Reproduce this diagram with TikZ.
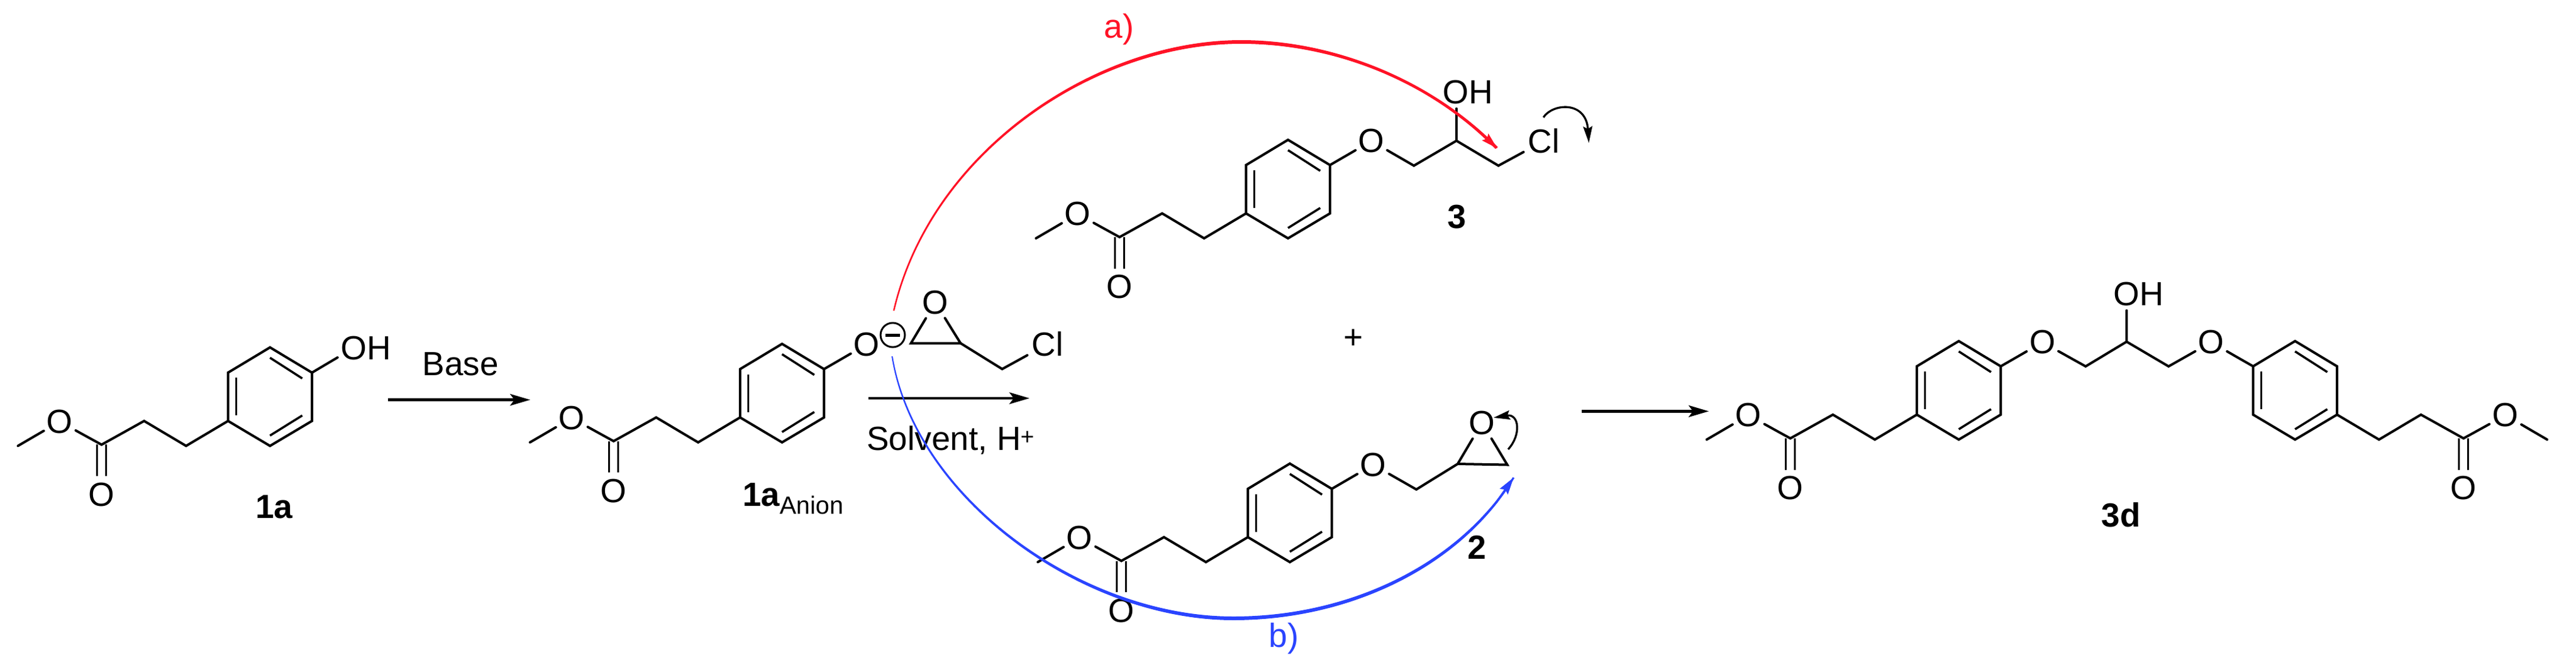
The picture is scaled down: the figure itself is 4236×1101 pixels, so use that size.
\documentclass[tikz,border=0pt]{standalone}
\usepackage{fontspec}
\setmainfont{Liberation Sans}
\usetikzlibrary{arrows.meta,calc}
\definecolor{pathred}{HTML}{FF1226}
\definecolor{pathblue}{HTML}{2A44FF}
\newcommand{\labelfont}{\fontsize{55}{60}\selectfont}
\tikzset{
  bond/.style={line width=4pt,line cap=round,black},
  innerbond/.style={line width=3.6pt,black},
  atom/.style={circle,inner sep=0pt,minimum size=60pt,font=\labelfont},
  group/.style={rectangle,inner sep=7pt,font=\labelfont},
  plain/.style={inner sep=0pt,font=\labelfont},
  compound/.style={inner sep=0pt,font=\labelfont\bfseries},
  rxnarrow/.style={line width=4.8pt,black,-{Stealth[length=33pt,width=19pt,inset=7pt]}},
  pusharrow/.style={line width=3.3pt,black,-{Stealth[length=27pt,width=15pt,inset=4pt]}},
}
% benzene ring: #1 prefix, #2 #3 lower-left vertex
\newcommand{\benzene}[3]{%
  \begin{scope}[shift={(#2,#3)}]
    \coordinate (#1bl) at (0,0);
    \coordinate (#1bo) at (69,41);
    \coordinate (#1br) at (138,0);
    \coordinate (#1tr) at (138,-79.5);
    \coordinate (#1to) at (69,-121);
    \coordinate (#1tl) at (0,-79.5);
    \draw[bond,line cap=butt] (#1bl)--(#1bo)--(#1br)--(#1tr)--(#1to)--(#1tl)--cycle;
    \coordinate (#1ia) at (13.5,-71);
    \coordinate (#1ib) at (13.5,-9);
    \coordinate (#1ic) at (69,-104);
    \coordinate (#1id) at (122,-70);
    \coordinate (#1ie) at (69,24);
    \coordinate (#1if) at (122,-9);
    \draw[innerbond] (#1ia)--(#1ib);
    \draw[innerbond] (#1ic)--(#1id);
    \draw[innerbond] (#1ie)--(#1if);
  \end{scope}}
% methyl propanoate chain: #1 prefix, #2 #3 attachment, #4 direction
\newcommand{\esterchain}[4]{%
  \begin{scope}[shift={(#2,#3)},xscale=#4]
    \coordinate (#1a) at (0,0);
    \coordinate (#1b) at (-69,41);
    \coordinate (#1d) at (-138,0);
    \coordinate (#1c) at (-208,39);
    \coordinate (#1m) at (-345.5,41);
    \node[atom] (#1o) at (-277,1) {O};
    \node[atom] (#1k) at (-208,121) {O};
    \draw[bond] (#1a)--(#1b)--(#1d)--(#1c)--(#1o)--(#1m);
    \draw[innerbond] ([xshift=-7.5pt]#1c)--([xshift=-7.5pt]#1c |- #1k.north);
    \draw[innerbond] ([xshift=7.5pt]#1c)--([xshift=7.5pt]#1c |- #1k.north);
  \end{scope}}
\begin{document}
\begin{tikzpicture}[x=1pt,y=-1pt]
\path[use as bounding box,fill=white] (0,0) rectangle (4236,1101);

% ---- 1a
\benzene{A}{375}{692.4}
\esterchain{AE}{375}{692.4}{1}
\node[group] (Aoh) at (602,573) {OH};
\coordinate (Aohb) at (555,588);
\draw[bond] (Atr)--(Aohb);
\node[compound] (Alab) at (451,834) {1a};

% ---- Base arrow
\coordinate (b1) at (638,657.6);
\coordinate (b2) at (872,657.6);
\draw[rxnarrow] (b1)--(b2);
\node[plain] (baselab) at (757,599) {Base};

% ---- 1a anion
\benzene{B}{1217}{686.6}
\esterchain{BE}{1217}{686.6}{1}
\node[atom] (Bo) at (1425,566.5) {O};
\draw[bond] (Btr)--(Bo);
\node[compound,anchor=base west] (Blab) at (1221,832) {1a\raisebox{-13pt}{\fontsize{41}{42}\mdseries\selectfont Anion}};
\node[circle,draw,line width=3pt,minimum size=40pt,inner sep=0pt] (charge) at (1468,551) {};
\coordinate (cm1) at (1456,551);
\coordinate (cm2) at (1480,551);
\draw[line width=5pt] (cm1)--(cm2);

% ---- epichlorohydrin
\coordinate (Ecl) at (1498,564.5);
\coordinate (Ecr) at (1579.5,564.5);
\coordinate (Ech) at (1648,607);
\node[atom] (Eo) at (1538,497.5) {O};
\node[group] (Ecl2) at (1722.5,566) {Cl};
\draw[bond] (Eo)--(Ecl)--(Ecr)--(Eo);
\draw[bond] (Ecr)--(Ech)--(Ecl2);

% ---- Solvent arrow
\coordinate (s1) at (1428,655);
\coordinate (s2) at (1693,655);
\draw[rxnarrow] (s1)--(s2);
\node[plain,anchor=base west] (solv) at (1425,740.7) {Solvent, H\textsuperscript{+}};

% ---- 3
\benzene{C}{2049}{351}
\esterchain{CE}{2049}{351}{1}
\node[atom] (Co) at (2255,232) {O};
\coordinate (Cp) at (2325,272.5);
\coordinate (Cq) at (2395,231.5);
\coordinate (Cr) at (2464,272.5);
\node[group] (Coh) at (2413.5,152) {OH};
\node[group] (Ccl) at (2538.5,232) {Cl};
\draw[bond] (Ctr)--(Co)--(Cp)--(Cq)--(Cr)--(Ccl);
\draw[bond] (Cq)--(Cq |- Coh.south);
\node[compound] (Clab) at (2396,357) {3};
\coordinate (Cx1) at (2538,193);
\coordinate (Cx2) at (2612.7,235);
\draw[pusharrow] (Cx1) .. controls (2553,170) and (2608,165) .. (Cx2);

% ---- plus
\node[plain] (plus) at (2226,558) {+};

% ---- 2
\benzene{D}{2052}{883.5}
\esterchain{DE}{2052}{883.5}{1}
\node[atom] (Do) at (2258,764.5) {O};
\coordinate (Dp) at (2329,805);
\coordinate (Dl) at (2397,763);
\coordinate (Dr) at (2478.6,764.5);
\node[atom] (Dx) at (2437,695.5) {O};
\draw[bond] (Dtr)--(Do)--(Dp)--(Dl)--(Dr)--(Dx)--(Dl);
\node[compound] (Dlab) at (2428.6,900) {2};
\coordinate (Dx1) at (2480,739);
\coordinate (Dx2) at (2456,687);
\draw[pusharrow] (Dx1) .. controls (2502,715) and (2498,680) .. (Dx2);

% ---- product arrow
\coordinate (p1) at (2600.5,676.4);
\coordinate (p2) at (2810,676.4);
\draw[rxnarrow] (p1)--(p2);

% ---- 3d
\benzene{F}{3152}{682}
\esterchain{FE}{3152}{682}{1}
\benzene{G}{3705}{682}
\esterchain{GE}{3843}{682}{-1}
\node[atom] (Fo) at (3358.6,563) {O};
\coordinate (Fp) at (3429.6,602.6);
\coordinate (Fq) at (3497,562);
\coordinate (Fr) at (3566,602.6);
\node[atom] (Fu) at (3636,563) {O};
\node[group] (Foh) at (3517,484) {OH};
\draw[bond] (Ftr)--(Fo)--(Fp)--(Fq)--(Fr)--(Fu)--(Gtl);
\draw[bond] (Fq)--(Fq |- Foh.south);
\node[compound] (Flab) at (3488,847) {3d};

% ---- red path a)
\fill[pathred] (1468.5,511) .. controls (1528.5,249) and (1800,66) .. (2041,66)
  .. controls (2190,66) and (2351.5,128.5) .. (2463,242)
  -- (2459,245) .. controls (2348,131.5) and (2190,72) .. (2041,72)
  .. controls (1800,72) and (1532,251) .. (1471,511) -- cycle;
\coordinate (ra) at (2426,210);
\coordinate (rb) at (2462,244);
\draw[pathred,line width=3pt,-{Stealth[length=27pt,width=15pt,inset=4pt]}] (ra)--(rb);
\node[plain,text=pathred] (alab) at (1840,48) {a)};

% ---- blue path b)
\fill[pathblue] (1466,586) .. controls (1503,821) and (1780,1020) .. (2028,1020)
  .. controls (2220,1020) and (2402,932.5) .. (2490.5,786)
  -- (2487.5,785) .. controls (2398,927.5) and (2220,1014) .. (2028,1014)
  .. controls (1780,1014) and (1507,819) .. (1468,586) -- cycle;
\coordinate (ba) at (2460,827);
\coordinate (bb) at (2489,785.5);
\draw[pathblue,line width=3pt,-{Stealth[length=28pt,width=16pt,inset=4pt]}] (ba)--(bb);
\node[plain,text=pathblue] (blab) at (2111,1050) {b)};
\end{tikzpicture}
\end{document}
